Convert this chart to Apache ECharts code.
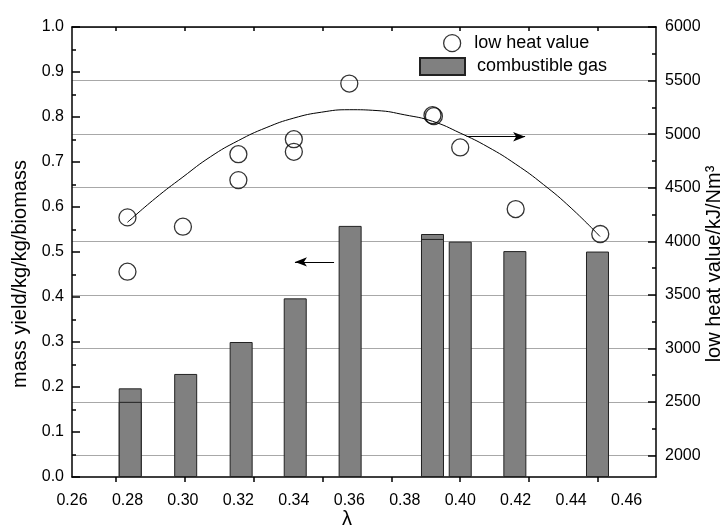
<!DOCTYPE html>
<html><head><meta charset="utf-8">
<script src="https://cdn.jsdelivr.net/npm/echarts@6/dist/echarts.min.js"></script>
<style>html,body{margin:0;padding:0;background:#fff}#c{width:722px;height:527px}</style>
</head><body><div id="c"></div>
<script>
const FONT = 'Liberation Sans, Arial, Helvetica, sans-serif';

// low heat value (right axis, kJ/Nm3)
const lhvX = [0.280, 0.280, 0.300, 0.320, 0.320, 0.340, 0.340, 0.360, 0.3900, 0.3905, 0.400, 0.420, 0.4505];
const lhvY = [4223, 3716, 4136, 4813, 4571, 4953, 4835, 5472, 5177, 5168, 4876, 4301, 4068];

// fitted curve (right axis)
const fitX = [0.280, 0.290, 0.300, 0.310, 0.320, 0.330, 0.340, 0.350, 0.360, 0.370, 0.380, 0.390, 0.400, 0.410, 0.420, 0.430, 0.440, 0.4504];
const fitY = [4177, 4400, 4600, 4790, 4940, 5060, 5150, 5205, 5228, 5220, 5180, 5120, 5010, 4880, 4720, 4530, 4310, 4045];

// combustible gas mass yield (left axis)
const gasX = [0.281, 0.301, 0.321, 0.3405, 0.3603, 0.390, 0.400, 0.4197, 0.4495];
const gasY = [0.197, 0.229, 0.300, 0.397, 0.558, 0.540, 0.523, 0.502, 0.501];
// repeated runs drawn over the same bars
const gasDupX = [0.281, 0.390];
const gasDupY = [0.167, 0.529];

// axis tick labels / tick marks
const xLabelValues = [0.26, 0.28, 0.30, 0.32, 0.34, 0.36, 0.38, 0.40, 0.42, 0.44, 0.46];
const xTickValues = [0.2759, 0.3008, 0.3256, 0.3503, 0.3753, 0.4000, 0.4248, 0.4496];
const rightLabelValues = [2000, 2500, 3000, 3500, 4000, 4500, 5000, 5500, 6000];
const rightMinorValues = [2250, 2750, 3250, 3750, 4250, 4750, 5250, 5750];

// arrows pointing to the axes
const arrowRightX = [0.4023, 0.4234];
const arrowRightY = [4976, 4976];
const arrowLeftX = [0.3545, 0.3404];
const arrowLeftY = [0.478, 0.478];

const pairs = (xs, ys) => xs.map((x, i) => [x, ys[i]]);
const AX = { color: '#000', width: 1.5 };
const XMIN = 0.26, XMAX = 0.4706;

const chart = echarts.init(document.getElementById('c'), null, { renderer: 'canvas' });
chart.setOption({
  animation: false,
  backgroundColor: '#fff',
  textStyle: { fontFamily: FONT },
  grid: { left: 72, right: 66, top: 27, bottom: 50, outerBoundsMode: 'none', containLabel: false },
  legend: [
    {
      data: [{ name: 'low heat value', icon: 'circle',
               itemStyle: { color: 'rgba(0,0,0,0)', borderColor: '#000', borderWidth: 1.3 } }],
      left: 443, top: 34, padding: 0, itemWidth: 34, itemHeight: 17, selectedMode: false,
      textStyle: { fontSize: 18, fontFamily: FONT, color: '#000' }
    },
    {
      data: [{ name: 'combustible gas', icon: 'rect' }],
      left: 419, top: 57, padding: 0, itemWidth: 45, itemHeight: 17, selectedMode: false,
      textStyle: { fontSize: 18, fontFamily: FONT, color: '#000', padding: [0, 0, 0, 7] }
    }
  ],
  xAxis: [
    {
      type: 'value', position: 'bottom', min: XMIN, max: XMAX,
      axisLine: { show: true, onZero: false, lineStyle: AX },
      axisTick: { show: true, inside: false, length: 5, customValues: xTickValues, lineStyle: AX },
      axisLabel: { customValues: xLabelValues, formatter: v => v.toFixed(2),
                   fontSize: 16, fontFamily: FONT, color: '#000', margin: 16 },
      splitLine: { show: false }
    },
    {
      type: 'value', position: 'top', min: XMIN, max: XMAX,
      axisLine: { show: true, onZero: false, lineStyle: AX },
      axisTick: { show: true, inside: true, length: 4, customValues: xTickValues, lineStyle: AX },
      axisLabel: { show: false },
      splitLine: { show: false }
    }
  ],
  yAxis: [
    {
      type: 'value', position: 'left', min: 0, max: 1, interval: 0.1,
      axisLine: { show: true, onZero: false, lineStyle: AX },
      axisTick: { show: true, inside: true, length: 8, lineStyle: AX },
      minorTick: { show: true, splitNumber: 2, length: 4, lineStyle: AX },
      axisLabel: { formatter: v => v.toFixed(1), fontSize: 16, fontFamily: FONT, color: '#000', margin: 8 },
      splitLine: { show: false }
    },
    {
      type: 'value', position: 'right', offset: 0, min: 1800, max: 6000,
      axisLine: { show: true, onZero: false, lineStyle: AX },
      axisTick: { show: true, inside: true, length: 8, customValues: rightLabelValues, lineStyle: AX },
      axisLabel: { customValues: rightLabelValues, formatter: v => String(Math.round(v)),
                   fontSize: 16, fontFamily: FONT, color: '#000', margin: 9 },
      splitLine: { show: true, lineStyle: { color: '#a8a8a8', width: 1 } }
    },
    {
      type: 'value', position: 'right', offset: 0, min: 1800, max: 6000,
      axisLine: { show: false },
      axisTick: { show: true, inside: true, length: 4, customValues: rightMinorValues, lineStyle: AX },
      axisLabel: { show: false },
      splitLine: { show: false }
    }
  ],
  series: [
    {
      name: 'combustible gas', type: 'bar', xAxisIndex: 0, yAxisIndex: 0,
      data: pairs(gasX, gasY), barWidth: 23, barGap: '-100%', z: 2,
      itemStyle: { color: '#808080', borderColor: '#222', borderWidth: 1 },
      markLine: {
        silent: true, symbol: ['none', 'arrow'], symbolSize: [7, 12], label: { show: false },
        lineStyle: { color: '#000', width: 1, type: 'solid' },
        data: [[{ coord: [arrowLeftX[0], arrowLeftY[0]] }, { coord: [arrowLeftX[1], arrowLeftY[1]] }]]
      }
    },
    {
      name: 'combustible gas', type: 'bar', xAxisIndex: 0, yAxisIndex: 0,
      data: pairs(gasDupX, gasDupY), barWidth: 23, barGap: '-100%', z: 2,
      itemStyle: { color: '#808080', borderColor: '#222', borderWidth: 1 }
    },
    {
      name: 'fit', type: 'line', xAxisIndex: 0, yAxisIndex: 1,
      data: pairs(fitX, fitY), smooth: true, symbol: 'none', z: 3,
      lineStyle: { color: '#000', width: 1 },
      markLine: {
        silent: true, symbol: ['none', 'arrow'], symbolSize: [7, 12], label: { show: false },
        lineStyle: { color: '#000', width: 1, type: 'solid' },
        data: [[{ coord: [arrowRightX[0], arrowRightY[0]] }, { coord: [arrowRightX[1], arrowRightY[1]] }]]
      }
    },
    {
      name: 'low heat value', type: 'scatter', xAxisIndex: 0, yAxisIndex: 1,
      data: pairs(lhvX, lhvY), symbol: 'circle', symbolSize: 17, z: 4,
      itemStyle: { color: 'rgba(0,0,0,0)', borderColor: '#000', borderWidth: 1.3 }
    }
  ],
  graphic: [
    { type: 'text', x: 20, y: 274, rotation: Math.PI / 2,
      style: { text: 'mass yield/kg/kg/biomass', fontSize: 20, fontFamily: FONT, fill: '#000',
               align: 'center', verticalAlign: 'middle', textAlign: 'center', textVerticalAlign: 'middle' } },
    { type: 'text', x: 714, y: 264, rotation: Math.PI / 2,
      style: { text: 'low heat value/kJ/Nm³', fontSize: 20, fontFamily: FONT, fill: '#000',
               align: 'center', verticalAlign: 'middle', textAlign: 'center', textVerticalAlign: 'middle' } },
    { type: 'text', x: 347, y: 519,
      style: { text: 'λ', fontSize: 20, fontFamily: FONT, fill: '#000',
               align: 'center', verticalAlign: 'middle', textAlign: 'center', textVerticalAlign: 'middle' } }
  ]
});
</script></body></html>
